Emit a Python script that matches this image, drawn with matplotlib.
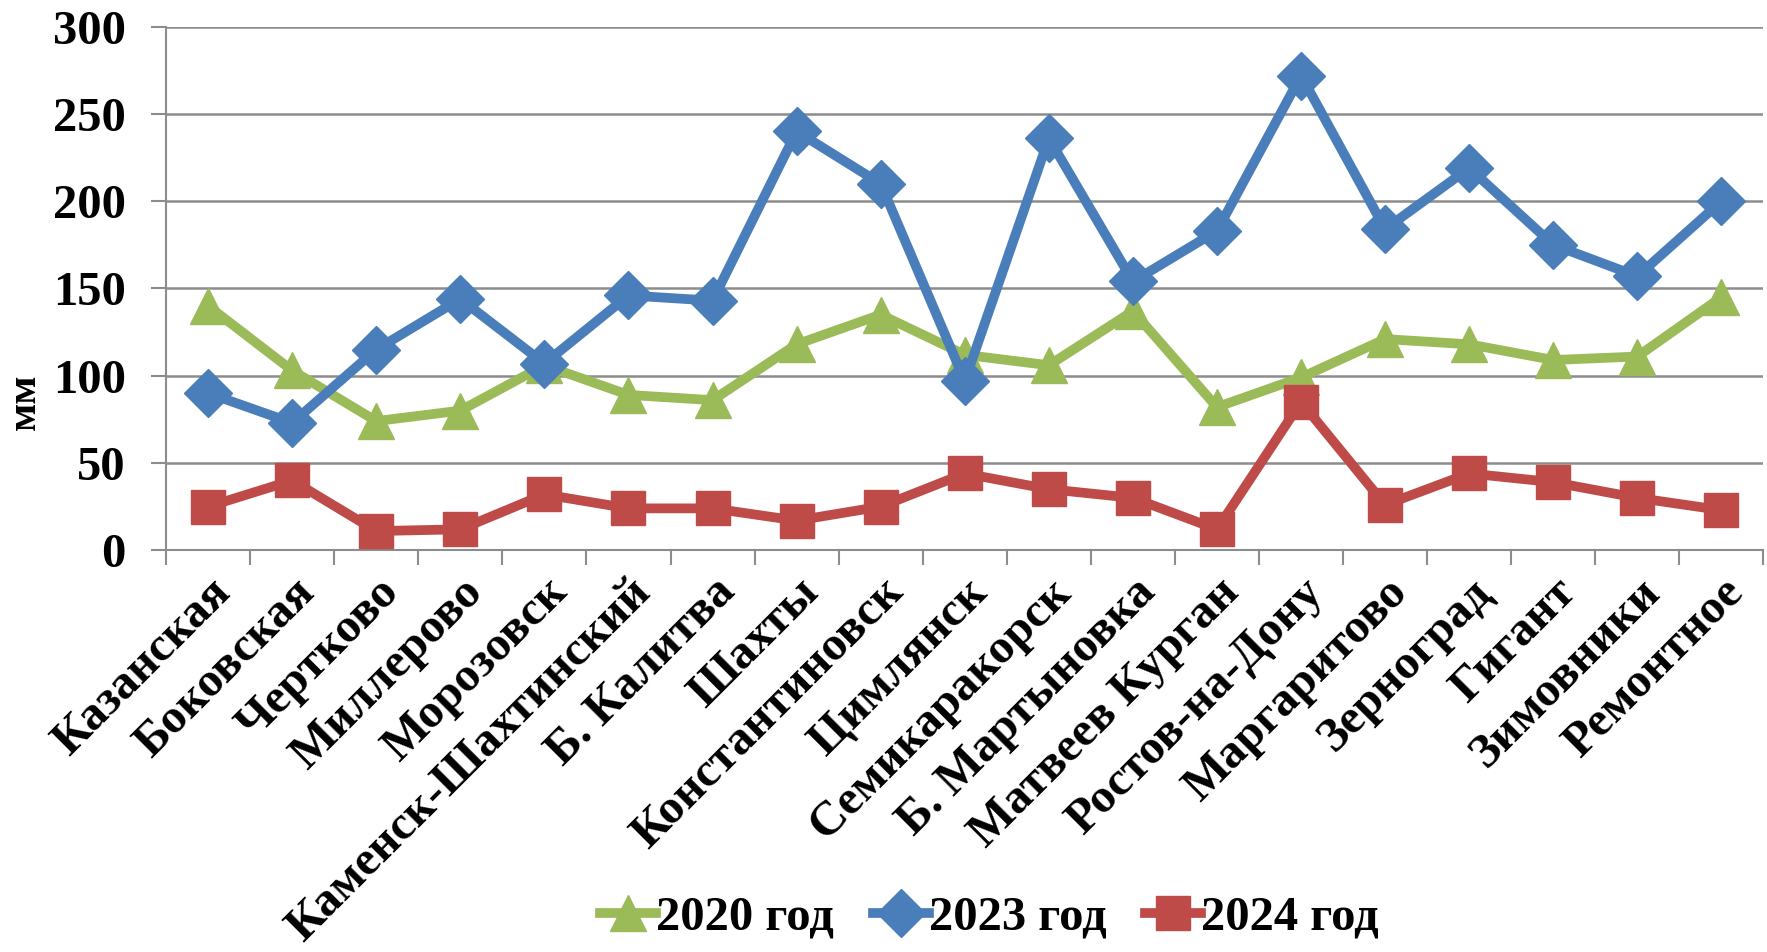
import numpy as np
import matplotlib
matplotlib.use('Agg')
import matplotlib.pyplot as plt

stations = ['Казанская', 'Боковская', 'Чертково', 'Миллерово', 'Морозовск',
            'Каменск-Шахтинский', 'Б. Калитва', 'Шахты', 'Константиновск',
            'Цимлянск', 'Семикаракорск', 'Б. Мартыновка', 'Матвеев Курган',
            'Ростов-на-Дону', 'Маргаритово', 'Зерноград', 'Гигант',
            'Зимовники', 'Ремонтное']
y2020 = [140, 103, 74, 80, 106, 89, 86, 118, 135, 112, 106, 137, 82, 99, 121, 118, 109, 111, 145]
y2023 = [90, 73, 115, 144, 107, 146, 143, 240, 210, 97, 236, 154, 183, 272, 184, 219, 175, 157, 200]
y2024 = [25, 40, 11, 12, 32, 24, 24, 17, 25, 44, 35, 30, 12, 85, 26, 44, 39, 30, 23]

plt.rcParams['font.family'] = ['Liberation Serif', 'DejaVu Serif']
plt.rcParams['font.weight'] = 'bold'

fig = plt.figure(figsize=(17.67, 9.52), dpi=100)
ax = fig.add_axes([0.094, 0.422, 0.904, 0.55])

x = np.arange(len(stations))
ax.plot(x, y2020, color='#9BBB59', lw=7, marker='^', ms=26, mec='#9BBB59', label='2020 год', zorder=3)
ax.plot(x, y2023, color='#4A7EBB', lw=7, marker='D', ms=24, mec='#4A7EBB', label='2023 год', zorder=4)
ax.plot(x, y2024, color='#BE4B48', lw=7, marker='s', ms=25, mec='#BE4B48', label='2024 год', zorder=5)

ax.set_xlim(-0.5, len(stations) - 0.5)
ax.set_ylim(0, 300)
ax.set_yticks(range(0, 301, 50))
ax.yaxis.grid(True, color='#8c8c8c', lw=1.8)
ax.set_axisbelow(True)

ax.set_xticks(x)
ax.set_xticklabels(stations, rotation=45, ha='right', rotation_mode='anchor', fontsize=35, fontweight='bold')
ax.set_xticks(np.arange(-0.5, len(stations), 1), minor=True)
ax.tick_params(axis='x', which='major', length=0, pad=14)
ax.tick_params(axis='x', which='minor', length=11, width=1.5, color='#8c8c8c')
ax.tick_params(axis='y', length=11, width=1.5, color='#8c8c8c', labelsize=35, pad=18)
for lab in ax.get_yticklabels():
    lab.set_fontweight('bold')

for s in ['top', 'right']:
    ax.spines[s].set_visible(False)
for s in ['left', 'bottom']:
    ax.spines[s].set_color('#8c8c8c')
    ax.spines[s].set_linewidth(1.5)

# подпись оси чуть ниже центра, как в оригинале
fig.text(0.014, 0.578, 'мм', rotation=90, ha='center', va='center', fontsize=30, fontweight='bold')

fig.legend(loc='center', bbox_to_anchor=(0.56, 0.036), ncol=3, frameon=False,
           prop={'size': 35, 'weight': 'bold'}, handlelength=1.15, handletextpad=0.0,
           columnspacing=0.8, markerscale=1.0)

fig.savefig('out.png', dpi=100)
